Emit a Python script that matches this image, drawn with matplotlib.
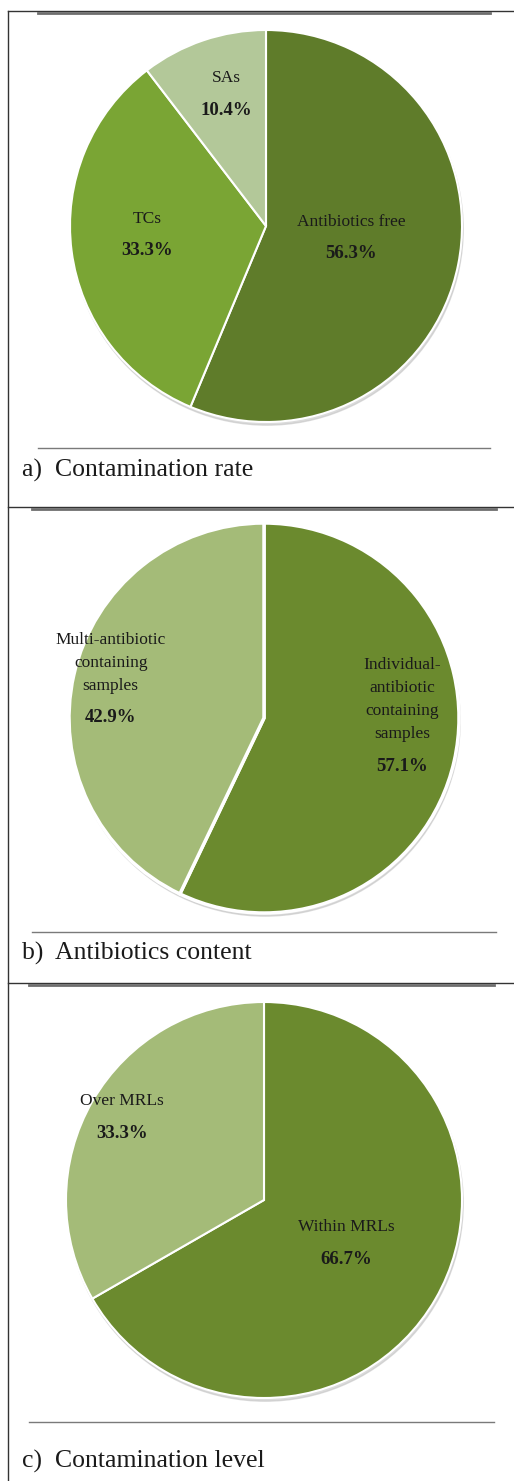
import matplotlib.pyplot as plt
import numpy as np

# ── Data ──────────────────────────────────────────────────────────────────────
rate_labels = ['Antibiotics free', 'TCs', 'SAs']
rate_values = [56.3, 33.3, 10.4]

content_labels = ['Individual-\nantibiotic\ncontaining\nsamples', 'Multi-antibiotic\ncontaining\nsamples']
content_values = [57.1, 42.9]

level_labels = ['Within MRLs', 'Over MRLs']
level_values = [66.7, 33.3]

captions = ['a)  Contamination rate', 'b)  Antibiotics content', 'c)  Contamination level']

# ── Style ─────────────────────────────────────────────────────────────────────
W, H = 514, 1481
SERIF = ['Liberation Serif', 'DejaVu Serif']
C_DARK1 = '#5f7c2a'
C_MID = '#7aa534'
C_PALE1 = '#b3c899'
C_DARK2 = '#6b8a2e'
C_PALE2 = '#a4bb78'
TXT = '#1a1a1a'
PAD = 1.04

fig = plt.figure(figsize=(W / 100, H / 100), dpi=100)
fig.patch.set_facecolor('white')


def px_axes(cx, cy, r):
    # axes box in figure fractions from pixel centre / radius (y from top)
    r = r * PAD
    return [(cx - r) / W, (H - cy - r) / H, 2 * r / W, 2 * r / H]


def hline(y, x0, x1, color, lw):
    fig.add_artist(plt.Line2D([x0 / W, x1 / W], [(H - y) / H, (H - y) / H],
                              transform=fig.transFigure, color=color, linewidth=lw))


def draw_pie(ax, values, labels, colors, radii, shifts, edge_lw):
    # soft shadow
    ax.add_patch(plt.Circle((0.006, -0.016), 1.0, color='#c4c4c4', alpha=0.6, zorder=0))
    wedges, _ = ax.pie(values, colors=colors, startangle=90, counterclock=False,
                       radius=1.0, wedgeprops={'edgecolor': 'white', 'linewidth': edge_lw})
    ax.set_xlim(-PAD, PAD)
    ax.set_ylim(-PAD, PAD)
    ax.set_aspect('equal')
    ax.axis('off')
    for w, lab, val, r, sh in zip(wedges, labels, values, radii, shifts):
        ang = np.deg2rad((w.theta1 + w.theta2) / 2 + sh)
        x, y = r * np.cos(ang), r * np.sin(ang)
        ax.annotate(lab, xy=(x, y), xytext=(0, 6), textcoords='offset points',
                    ha='center', va='bottom', fontsize=12.5, color=TXT,
                    family=SERIF, linespacing=1.6, annotation_clip=False)
        ax.annotate(f'{val:.1f}%', xy=(x, y), xytext=(0, -5), textcoords='offset points',
                    ha='center', va='top', fontsize=13.5, fontweight='bold', color=TXT,
                    family=SERIF, annotation_clip=False)


# ── Panel a ───────────────────────────────────────────────────────────────────
ax1 = fig.add_axes(px_axes(266, 226, 196))
draw_pie(ax1, rate_values, rate_labels, [C_DARK1, C_MID, C_PALE1],
         radii=[0.44, 0.61, 0.70], shifts=[3, -3, -2], edge_lw=1.5)

# ── Panel b ───────────────────────────────────────────────────────────────────
ax2 = fig.add_axes(px_axes(264, 718, 195))
draw_pie(ax2, content_values, content_labels, [C_DARK2, C_PALE2],
         radii=[0.73, 0.79], shifts=[-0.5, 7], edge_lw=2.5)

# ── Panel c ───────────────────────────────────────────────────────────────────
ax3 = fig.add_axes(px_axes(264, 1200, 198))
draw_pie(ax3, level_values, level_labels, [C_DARK2, C_PALE2],
         radii=[0.47, 0.83], shifts=[2, 0], edge_lw=1.5)

# ── Table frame & rules ───────────────────────────────────────────────────────
fig.add_artist(plt.Line2D([8 / W, 8 / W], [0, (H - 11) / H],
                          transform=fig.transFigure, color='#333333', linewidth=1.0))
for y in [11, 507, 983]:
    hline(y, 8, W, '#333333', 1.0)
hline(13, 38, 490, '#6e6e6e', 2.0)
hline(509, 32, 496, '#6e6e6e', 2.0)
hline(985, 29, 494, '#6e6e6e', 2.0)
hline(448, 38, 490, '#7a7a7a', 1.0)
hline(932, 32, 496, '#7a7a7a', 1.0)
hline(1422, 29, 494, '#7a7a7a', 1.0)

for y, cap in zip([470, 953, 1461], captions):
    fig.text(22 / W, (H - y) / H, cap, ha='left', va='center', fontsize=18.5,
             color=TXT, family=SERIF)

plt.savefig('out.png', dpi=100, facecolor='white')
